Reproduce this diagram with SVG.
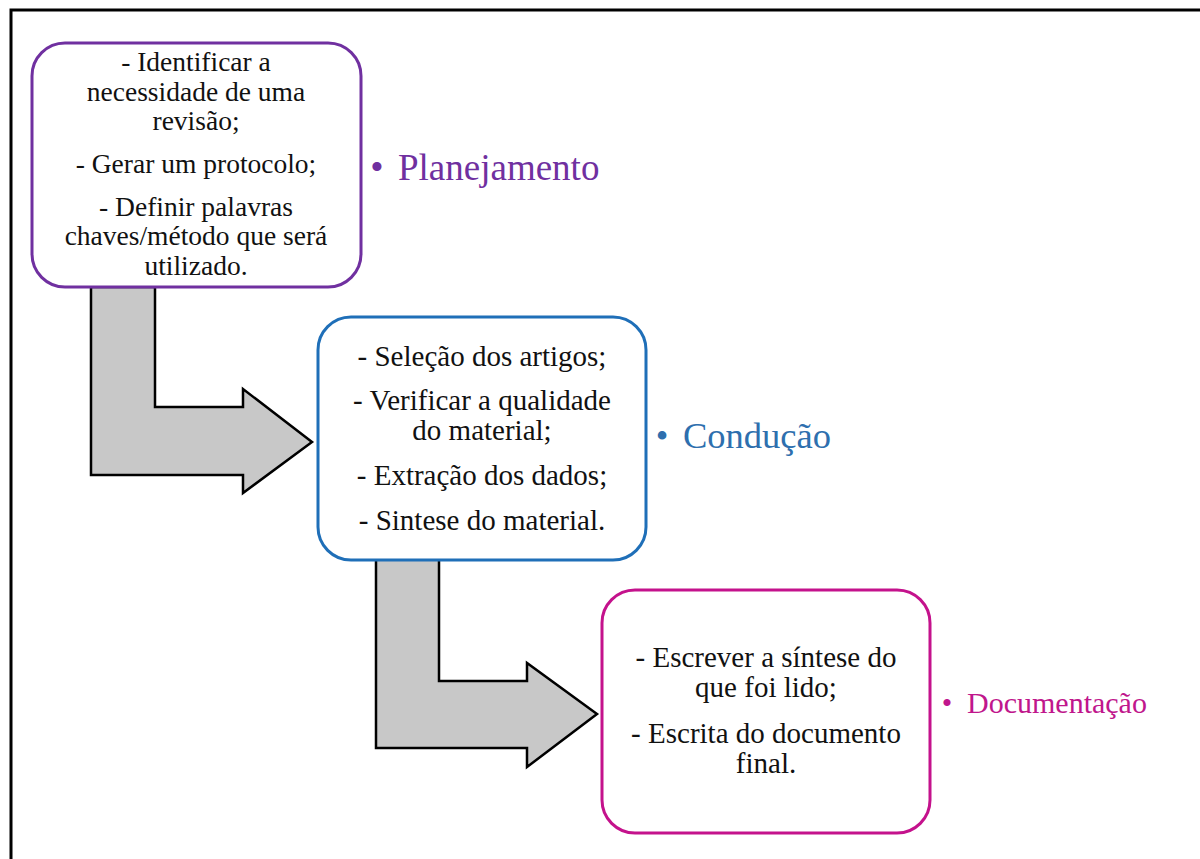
<svg xmlns="http://www.w3.org/2000/svg" width="1200" height="859" viewBox="0 0 1200 859">
<style>
.frame{fill:none;stroke:#000;stroke-width:3}
.arrow{fill:#C8C8C8;stroke:#000;stroke-width:2.5;stroke-linejoin:miter}
.box{fill:#fff;stroke-width:3}
.t{font-family:'Liberation Serif','Times New Roman',serif;fill:#111;text-anchor:middle}
.lbl{font-family:'Liberation Serif','Times New Roman',serif}
</style>
<rect width="1200" height="859" fill="#fff"/>
<path class="frame" d="M11,859 V10 H1200"/>
<g id="connectors">
<polygon class="arrow" points="91,287 155,287 155,407 243,407 243,389 312,442 243,493 243,475 91,475"/>
<polygon class="arrow" points="376,559 439,559 439,681 527,681 527,663 597,714 527,767 527,748 376,748"/>
</g>
<g id="node-planejamento">
<rect class="box" x="32" y="43" width="329" height="244" rx="33" ry="33" stroke="#7030A0"/>
<g class="t" font-size="27.5">
<text x="196" y="71">- Identificar a</text>
<text x="196" y="101">necessidade de uma</text>
<text x="196" y="130">revisão;</text>
<text x="196" y="173">- Gerar um protocolo;</text>
<text x="196" y="216">- Definir palavras</text>
<text x="196" y="245">chaves/método que será</text>
<text x="196" y="275">utilizado.</text>
</g>
<g class="lbl" fill="#7030A0">
<text x="377" y="180" font-size="38" text-anchor="middle">•</text>
<text x="398" y="180" font-size="37">Planejamento</text>
</g>
</g>
<g id="node-conducao">
<rect class="box" x="318" y="317" width="328" height="243" rx="33" ry="33" stroke="#1F6FB8"/>
<g class="t" font-size="29">
<text x="482" y="366">- Seleção dos artigos;</text>
<text x="482" y="410">- Verificar a qualidade</text>
<text x="482" y="440">do material;</text>
<text x="482" y="485">- Extração dos dados;</text>
<text x="482" y="530">- Sintese do material.</text>
</g>
<g class="lbl" fill="#2E6FAE">
<text x="662" y="448" font-size="36" text-anchor="middle">•</text>
<text x="683" y="448" font-size="36.5">Condução</text>
</g>
</g>
<g id="node-documentacao">
<rect class="box" x="602" y="590" width="328" height="243" rx="33" ry="33" stroke="#C4128C"/>
<g class="t" font-size="29">
<text x="766" y="667">- Escrever a síntese do</text>
<text x="766" y="697">que foi lido;</text>
<text x="766" y="743">- Escrita do documento</text>
<text x="766" y="773">final.</text>
</g>
<g class="lbl" fill="#C0168C">
<text x="947" y="713" font-size="30" text-anchor="middle">•</text>
<text x="967" y="713" font-size="30">Documentação</text>
</g>
</g>
</svg>
